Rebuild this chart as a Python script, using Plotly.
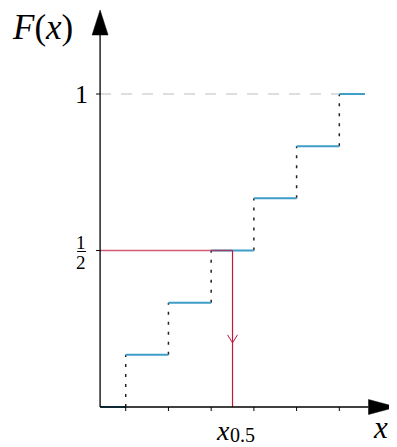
import plotly.graph_objects as go

# ---- data ----
jump_x = [1, 2, 3, 4, 5, 6]
cdf_levels = [0, 1/6, 2/6, 3/6, 4/6, 5/6, 1]
x_start, x_end = 0.4, 6.6
median_p = 0.5
x_median = 3.5
ytick_vals = [0.5, 1]
ytick_text_one = "1"
frac_num, frac_den = "1", "2"
xlabel = "x"
ylabel = "F(x)"
median_main, median_sub = "x", "0.5"

# ---- geometry (pixel mapping; page body has an 8px margin) ----
OFF = 8
W, H = 397 - OFF, 447 - OFF
X0PX, XUNIT = 83.0 - OFF, 42.72
Y0PX, YUNIT = 407.0 - OFF, 313.0
xr = [(0 - X0PX) / XUNIT, (W - X0PX) / XUNIT]
yr = [(Y0PX - H) / YUNIT, Y0PX / YUNIT]
def dx(p): return p / XUNIT
def dy(p): return p / YUNIT

FONT = "Liberation Serif"
BLUE = "#3f9dc9"
RED = "#c3163b"

fig = go.Figure()

# dotted jumps
vx, vy = [], []
for j, lo, hi in zip(jump_x, cdf_levels[:-1], cdf_levels[1:]):
    vx += [j, j, None]; vy += [lo, hi, None]
fig.add_trace(go.Scatter(x=vx, y=vy, mode="lines",
                         line=dict(color="#222222", width=1.5, dash="3px,7px")))

# gray dashed at F=1
fig.add_trace(go.Scatter(x=[x_start, jump_x[-1]], y=[1, 1], mode="lines",
                         line=dict(color="#bcbcbc", width=1, dash="11px,10px")))

# step segments
sx, sy = [], []
lefts = [x_start] + jump_x
rights = jump_x + [x_end]
for l, r, v in zip(lefts, rights, cdf_levels):
    sx += [l, r, None]; sy += [v, v, None]
fig.add_trace(go.Scatter(x=sx, y=sy, mode="lines", line=dict(color=BLUE, width=2)))

# red median lines
fig.add_trace(go.Scatter(x=[x_start, x_median], y=[median_p, median_p], mode="lines",
                         opacity=0.7, line=dict(color=RED, width=1.3)))
fig.add_trace(go.Scatter(x=[x_median, x_median], y=[median_p, 0], mode="lines",
                         line=dict(color=RED, width=1.2)))
tip_y = 0.41 * median_p
fig.add_trace(go.Scatter(x=[x_median - dx(5), x_median, x_median + dx(5)],
                         y=[tip_y + dy(8), tip_y, tip_y + dy(8)], mode="lines",
                         line=dict(color=RED, width=1)))

# axes
xtip = xr[1] - dx(0.5)
xbase = xtip - dx(28)
ytip = (407 - 10) / YUNIT
ybase = ytip - dy(25)
fig.add_trace(go.Scatter(x=[x_start, xbase], y=[0, 0], mode="lines",
                         line=dict(color="black", width=1.3)))
fig.add_trace(go.Scatter(x=[x_start, x_start], y=[0, ybase], mode="lines",
                         line=dict(color="black", width=1.3)))
fig.add_trace(go.Scatter(x=[xbase, xtip, xbase, xbase], y=[dy(7.5), 0, -dy(7.5), dy(7.5)],
                         mode="lines", fill="toself", fillcolor="black",
                         line=dict(color="black", width=0.5)))
fig.add_trace(go.Scatter(x=[x_start - dx(8), x_start, x_start + dx(8), x_start - dx(8)],
                         y=[ybase, ytip, ybase, ybase],
                         mode="lines", fill="toself", fillcolor="black",
                         line=dict(color="black", width=0.5)))

# ticks
tx, ty = [], []
for j in jump_x:
    tx += [j, j, None]; ty += [0, -dy(4), None]
for v in ytick_vals:
    tx += [x_start - dx(4), x_start, None]; ty += [v, v, None]
fig.add_trace(go.Scatter(x=tx, y=ty, mode="lines", line=dict(color="black", width=1)))

# fraction bar
fig.add_trace(go.Scatter(x=[x_start - dx(23), x_start - dx(14)], y=[0.5 - dy(1), 0.5 - dy(1)],
                         mode="lines", line=dict(color="black", width=1)))

ann = []
# y tick labels
ann.append(dict(x=x_start - dx(19), y=1, text=ytick_text_one, showarrow=False,
                xanchor="center", yanchor="middle", font=dict(family=FONT, size=26, color="black")))
ann.append(dict(x=x_start - dx(19), y=0.5 + dy(8), text=frac_num, showarrow=False,
                xanchor="center", yanchor="middle", font=dict(family=FONT, size=19, color="black")))
ann.append(dict(x=x_start - dx(19), y=0.5 - dy(12), text=frac_den, showarrow=False,
                xanchor="center", yanchor="middle", font=dict(family=FONT, size=19, color="black")))
# axis labels
ann.append(dict(x=x_start - dx(58), y=(407 - 27) / YUNIT, text="<i>F</i>(<i>x</i>)", showarrow=False,
                xanchor="center", yanchor="middle", font=dict(family=FONT, size=35, color="black")))
ann.append(dict(x=x_start + dx(280), y=-dy(20), text="<i>" + xlabel + "</i>", showarrow=False,
                xanchor="center", yanchor="middle", font=dict(family=FONT, size=31, color="black")))
# median label
ann.append(dict(x=x_median - dx(1), y=-dy(23), text="<i>" + median_main + "</i>", showarrow=False,
                xanchor="right", yanchor="middle", font=dict(family=FONT, size=28, color="black")))
ann.append(dict(x=x_median - dx(5), y=-dy(28), text=median_sub, showarrow=False,
                xanchor="left", yanchor="middle", font=dict(family=FONT, size=20, color="black")))

fig.update_layout(
    width=W, height=H, margin=dict(l=0, r=0, t=0, b=0, pad=0),
    paper_bgcolor="white", plot_bgcolor="white", showlegend=False,
    xaxis=dict(range=xr, visible=False, fixedrange=True),
    yaxis=dict(range=yr, visible=False, fixedrange=True),
    annotations=ann,
)
fig.write_html("out.html")
